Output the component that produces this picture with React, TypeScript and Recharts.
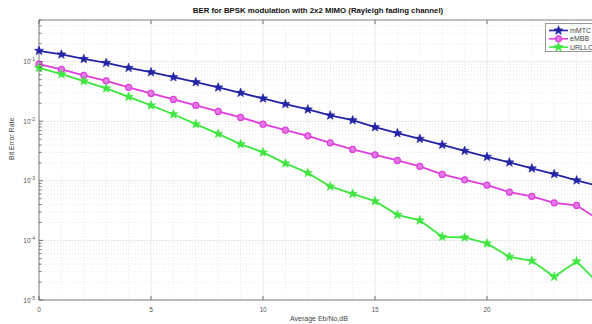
import React from "react";
import { LineChart, Line, XAxis, YAxis, ReferenceLine } from "recharts";

const snr = [0, 1, 2, 3, 4, 5, 6, 7, 8, 9, 10, 11, 12, 13, 14, 15, 16, 17, 18, 19, 20, 21, 22, 23, 24, 25];
const mmtc = [0.152, 0.132, 0.111, 0.0955, 0.0787, 0.0667, 0.055, 0.0453, 0.0369, 0.03, 0.0241, 0.0194, 0.0158, 0.0125, 0.0104, 0.00796, 0.00631, 0.00507, 0.00402, 0.00319, 0.00253, 0.00204, 0.00162, 0.0013, 0.00102, 0.00081];
const embb = [0.0908, 0.074, 0.0587, 0.0476, 0.0369, 0.0293, 0.0232, 0.0184, 0.0146, 0.0116, 0.00893, 0.00709, 0.00569, 0.00434, 0.00337, 0.00273, 0.0022, 0.00175, 0.00128, 0.00104, 0.000848, 0.000646, 0.000547, 0.000427, 0.000387, 0.000222];
const urllc = [0.0787, 0.0617, 0.0471, 0.0355, 0.0257, 0.0184, 0.0131, 0.00893, 0.00615, 0.00413, 0.003, 0.00196, 0.00136, 0.000805, 0.000605, 0.000456, 0.000269, 0.000217, 0.000115, 0.000112, 0.0000891, 0.0000531, 0.0000455, 0.0000245, 0.0000445, 0.0000188];

const xTicks = [0, 5, 10, 15, 20];
const xMinor = [1, 2, 3, 4, 6, 7, 8, 9, 11, 12, 13, 14, 16, 17, 18, 19, 21, 22, 23, 24];
const decades = [1e-5, 1e-4, 1e-3, 1e-2, 1e-1];
const exponents = [-5, -4, -3, -2, -1];
const minorSteps = [2, 3, 4, 5, 6, 7, 8, 9];
const yMax = 0.5;

const series = [
  { key: "mMTC", color: "#2323a6", marker: "star" },
  { key: "eMBB", color: "#dd3edd", marker: "circle" },
  { key: "URLLC", color: "#3fe63f", marker: "star" },
];

const data = snr.map((x, i) => ({ snr: x, mMTC: mmtc[i], eMBB: embb[i], URLLC: urllc[i] }));

const yMinor: number[] = [];
decades.forEach((d) => minorSteps.forEach((k) => { if (d * k <= yMax + 1e-12) yMinor.push(d * k); }));
const yAll = [...decades, ...yMinor].sort((a, b) => a - b);

const FONT = "'Liberation Sans', Arial, sans-serif";
const PLOT_LEFT = 39;
const PLOT_TOP = 20;
const PLOT_BOTTOM = 300;

function starPoints(cx: number, cy: number, r: number) {
  const pts: string[] = [];
  for (let i = 0; i < 10; i++) {
    const rad = i % 2 === 0 ? r : r * 0.42;
    const a = -Math.PI / 2 + (i * Math.PI) / 5;
    pts.push(`${cx + rad * Math.cos(a)},${cy + rad * Math.sin(a)}`);
  }
  return pts.join(" ");
}

function Marker({ cx, cy, type, color }: { cx: number; cy: number; type: string; color: string }) {
  if (type === "circle") {
    return <circle cx={cx} cy={cy} r={3} fill="#e27ae2" stroke={color} strokeWidth={1.2} />;
  }
  return <polygon points={starPoints(cx, cy, 4.8)} fill={color} stroke={color} strokeWidth={0.6} />;
}

const YTick = (props: any) => {
  const { y, payload } = props;
  const v = payload.value;
  const idx = decades.findIndex((d) => Math.abs(d - v) / d < 1e-6);
  const major = idx >= 0;
  return (
    <g>
      <line x1={PLOT_LEFT} x2={PLOT_LEFT + (major ? 4 : 2.5)} y1={y} y2={y} stroke="#555" strokeWidth={0.8} />
      {major && (
        <text x={PLOT_LEFT - 4} y={y + 2.5} textAnchor="end" fontSize={6.5} fill="#555" fontFamily={FONT}>
          10
          <tspan dy={-3} fontSize={5}>{exponents[idx]}</tspan>
        </text>
      )}
    </g>
  );
};

const XTick = (props: any) => {
  const { x, payload } = props;
  return (
    <g>
      <line x1={x} x2={x} y1={PLOT_BOTTOM} y2={PLOT_BOTTOM - 4} stroke="#555" strokeWidth={0.8} />
      <line x1={x} x2={x} y1={PLOT_TOP} y2={PLOT_TOP + 4} stroke="#555" strokeWidth={0.8} />
      <text x={x} y={PLOT_BOTTOM + 12} textAnchor="middle" fontSize={6.5} fill="#555" fontFamily={FONT}>
        {payload.value}
      </text>
    </g>
  );
};

const LegendBox = () => (
  <div
    style={{
      position: "absolute",
      left: 545,
      top: 23,
      width: 50,
      height: 29,
      background: "#fff",
      border: "1px solid #999",
      boxSizing: "border-box",
    }}
  >
    <svg width={50} height={28} style={{ display: "block" }}>
      {series.map((s, i) => {
        const cy = 6.5 + i * 8.3;
        return (
          <g key={s.key}>
            <line x1={3} x2={22} y1={cy} y2={cy} stroke={s.color} strokeWidth={1.6} />
            <Marker cx={12.5} cy={cy} type={s.marker} color={s.color} />
            <text x={24} y={cy + 2.5} fontSize={7} fill="#444" fontFamily={FONT}>
              {s.key}
            </text>
          </g>
        );
      })}
    </svg>
  </div>
);

export default function App() {
  return (
    <div style={{ position: "absolute", left: 0, top: 0, width: 592, height: 324, overflow: "hidden", background: "#fff" }}>
      <div
        style={{
          position: "absolute",
          left: 0,
          top: 6,
          width: 636,
          textAlign: "center",
          fontFamily: FONT,
          fontWeight: "bold",
          fontSize: 7.8,
          lineHeight: "9px",
          color: "#111",
        }}
      >
        BER for BPSK modulation with 2x2 MIMO (Rayleigh fading channel)
      </div>
      <LineChart width={606} height={324} data={data} margin={{ top: PLOT_TOP, right: 7, left: 0, bottom: 0 }}>
        {xMinor.map((v) => (
          <ReferenceLine key={`xm${v}`} x={v} stroke="#d8d8d8" strokeDasharray="1 2" strokeWidth={0.6} />
        ))}
        {yMinor.map((v) => (
          <ReferenceLine key={`ym${v}`} y={v} stroke="#d8d8d8" strokeDasharray="1 2" strokeWidth={0.6} />
        ))}
        {xTicks.map((v) => (
          <ReferenceLine key={`xg${v}`} x={v} stroke="#e4e4e4" strokeWidth={0.8} />
        ))}
        {decades.map((v) => (
          <ReferenceLine key={`yg${v}`} y={v} stroke="#e4e4e4" strokeWidth={0.8} />
        ))}
        <ReferenceLine y={yMax} stroke="#777" strokeWidth={0.9} />
        <XAxis
          dataKey="snr"
          type="number"
          domain={[0, 25]}
          ticks={xTicks}
          height={24}
          axisLine={{ stroke: "#777", strokeWidth: 0.9 }}
          tickLine={false}
          tick={<XTick />}
          label={{ value: "Average Eb/No,dB", position: "insideBottom", offset: 3, fontSize: 7, fill: "#444", fontFamily: FONT }}
        />
        <YAxis
          scale="log"
          domain={[1e-5, yMax]}
          allowDataOverflow
          ticks={yAll}
          width={PLOT_LEFT}
          interval={0}
          axisLine={{ stroke: "#777", strokeWidth: 0.9 }}
          tickLine={false}
          tick={<YTick />}
          label={{ value: "Bit Error Rate", angle: -90, position: "insideLeft", offset: 12, fontSize: 7, fill: "#444", fontFamily: FONT }}
        />
        {series.map((s) => (
          <Line
            key={s.key}
            dataKey={s.key}
            stroke={s.color}
            strokeWidth={1.8}
            isAnimationActive={false}
            dot={(p: any) => <Marker key={`${s.key}-${p.index}`} cx={p.cx} cy={p.cy} type={s.marker} color={s.color} />}
            activeDot={false}
          />
        ))}
      </LineChart>
      <LegendBox />
    </div>
  );
}
